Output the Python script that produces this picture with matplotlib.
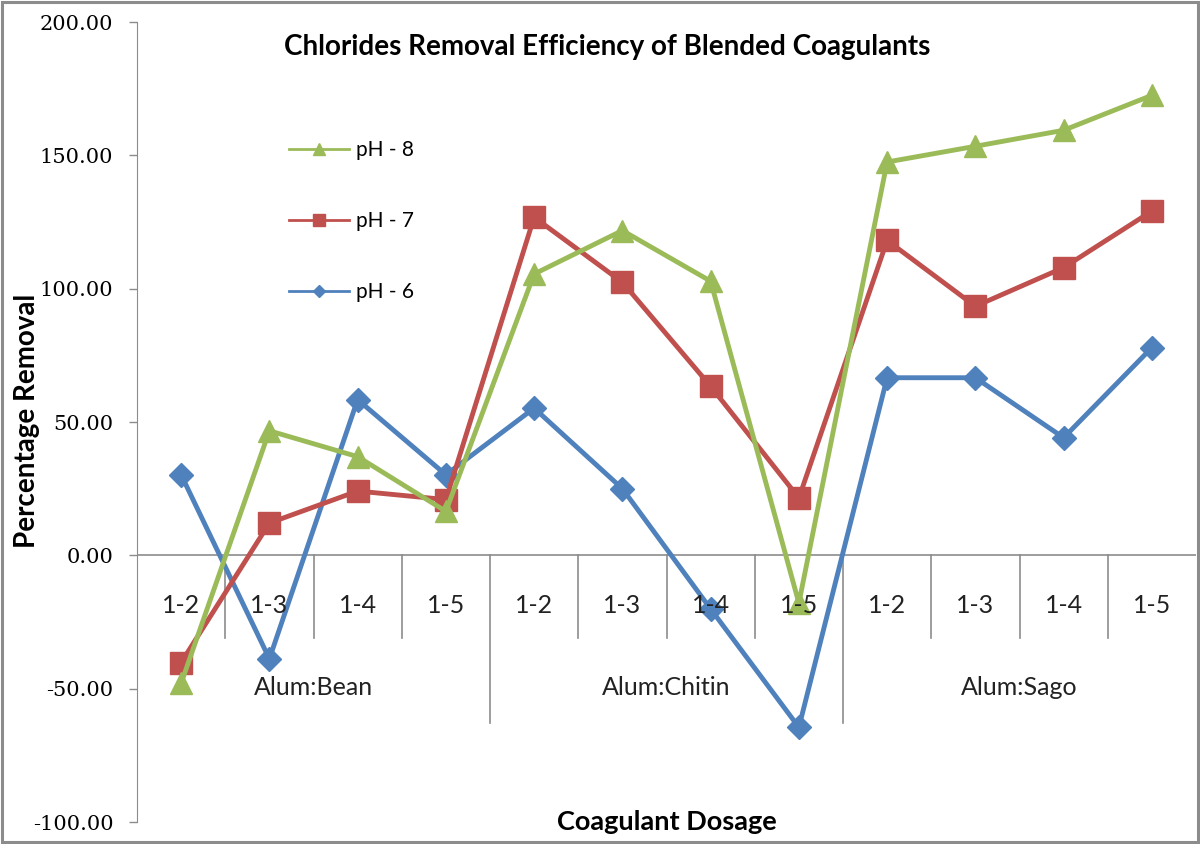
import numpy as np
import matplotlib
matplotlib.use("Agg")
import matplotlib.pyplot as plt
from matplotlib.patches import Rectangle

# data
groups = ["Alum:Bean", "Alum:Chitin", "Alum:Sago"]
dosages = ["1-2", "1-3", "1-4", "1-5"]

ph6 = [30.2, -38.8, 58.4, 30.2, 55.2, 25.0, -20.1, -64.5, 66.6, 66.6, 44.1, 77.9]
ph7 = [-40.2, 12.1, 24.1, 20.9, 126.8, 102.4, 63.4, 21.5, 118.1, 93.4, 107.9, 129.1]
ph8 = [-48.0, 46.7, 37.0, 16.5, 105.5, 121.8, 102.8, -17.9, 147.5, 153.4, 159.4, 172.5]

yticks = [-100, -50, 0, 50, 100, 150, 200]

BLUE = "#4F81BD"
RED = "#C0504D"
GREEN = "#9BBB59"
GREY = "#8C8C8C"
FONT = "Lato"

fig = plt.figure(figsize=(12, 8.44), dpi=100)
ax = fig.add_axes([137 / 1200, 1 - 822 / 844, (1196 - 137) / 1200, 800 / 844])

x = np.arange(len(groups) * len(dosages))
l6, = ax.plot(x, ph6, color=BLUE, lw=3.5, marker="D", ms=12, label="pH - 6")
l7, = ax.plot(x, ph7, color=RED, lw=3.5, marker="s", ms=16, label="pH - 7")
l8, = ax.plot(x, ph8, color=GREEN, lw=3.5, marker="^", ms=16.5, label="pH - 8")

ax.set_xlim(-0.5, len(x) - 0.5)
ax.set_ylim(-100, 200)
ax.set_yticks(yticks)
ax.set_yticklabels(["%.2f" % v for v in yticks], family="DejaVu Serif", fontsize=15)
ax.tick_params(axis="y", direction="out", length=6, width=1, color=GREY, pad=11)
ax.set_xticks([])

for s in ["top", "right", "bottom"]:
    ax.spines[s].set_visible(False)
ax.spines["left"].set_color(GREY)
ax.axhline(0, color=GREY, lw=1.2, zorder=1)

# hierarchical category axis
for i in range(1, len(x)):
    bottom = -63 if i % len(dosages) == 0 else -31
    ax.plot([i - 0.5, i - 0.5], [0, bottom], color=GREY, lw=1.2, zorder=1, clip_on=False)

for i, xi in enumerate(x):
    ax.text(xi, -18.7, dosages[i % len(dosages)], ha="center", va="center",
            fontsize=18, family=FONT, color="#222222")
for g, name in enumerate(groups):
    center = g * len(dosages) + (len(dosages) - 1) / 2
    ax.text(center, -49.7, name, ha="center", va="center",
            fontsize=18, family=FONT, color="#222222")

fig.text(607 / 1200, 1 - 47 / 844, "Chlorides Removal Efficiency of Blended Coagulants",
         ha="center", va="center", fontsize=20, fontweight="bold", family=FONT)
fig.text(27 / 1200, 1 - 421 / 844, "Percentage Removal", rotation=90,
         ha="center", va="center", fontsize=20, fontweight="bold", family=FONT)
fig.text(667 / 1200, 1 - 822 / 844, "Coagulant Dosage",
         ha="center", va="center", fontsize=19.5, fontweight="bold", family=FONT)

leg = ax.legend(handles=[l8, l7, l6], loc="upper left",
                bbox_to_anchor=(289 / 1200, 1 - 140 / 844), bbox_transform=fig.transFigure,
                frameon=False, prop={"family": FONT, "size": 15}, labelspacing=2.45,
                handlelength=2.9, handletextpad=0.3, markerscale=0.55,
                borderpad=0, borderaxespad=0)
for ln in leg.get_lines():
    ln.set_linewidth(2)

fig.patches.append(Rectangle((0.002, 0.002), 0.996, 0.996, transform=fig.transFigure,
                             fill=False, edgecolor=GREY, lw=2.2))

fig.savefig("out.png", dpi=100)
